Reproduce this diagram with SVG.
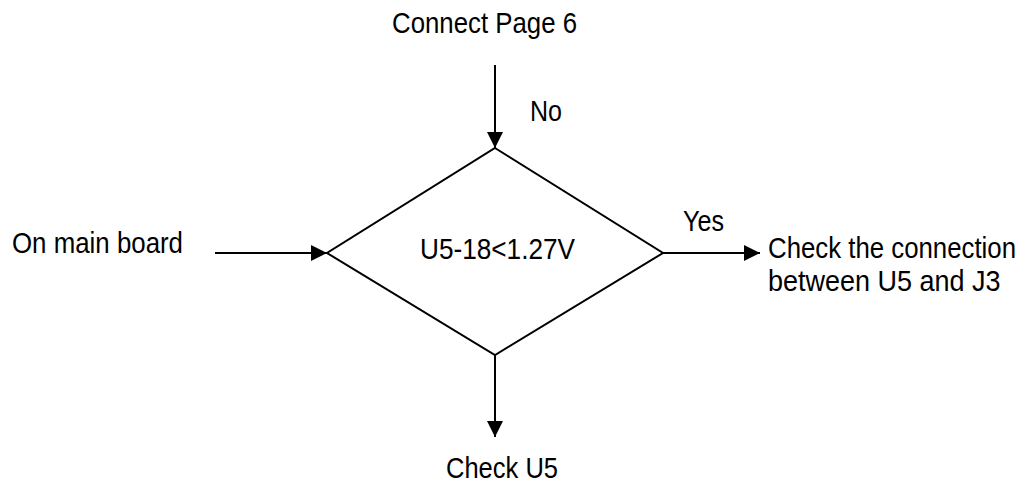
<svg xmlns="http://www.w3.org/2000/svg" width="1030" height="487" viewBox="0 0 1030 487">
<style>
text{font-family:"Liberation Sans Narrow","Liberation Sans",Arial,sans-serif;font-size:30px;fill:#000}
.ln{stroke:#000;stroke-width:2;fill:none}
</style>
<defs>
<marker id="ah" markerWidth="16" markerHeight="16" viewBox="0 0 16 16" refX="16" refY="8" orient="auto" markerUnits="userSpaceOnUse">
<path d="M0,0 L16,8 L0,16 Z" fill="#000"/>
</marker>
</defs>
<rect width="1030" height="487" fill="#fff"/>
<g id="connectors">
<line class="ln" x1="495" y1="65" x2="495" y2="148" marker-end="url(#ah)"/>
<line class="ln" x1="215" y1="253" x2="327" y2="253" marker-end="url(#ah)"/>
<line class="ln" x1="663" y1="253" x2="760" y2="253" marker-end="url(#ah)"/>
<line class="ln" x1="495" y1="355" x2="495" y2="437" marker-end="url(#ah)"/>
<text x="530" y="121" textLength="32" lengthAdjust="spacingAndGlyphs">No</text>
<text x="683" y="231" textLength="41" lengthAdjust="spacingAndGlyphs">Yes</text>
</g>
<g id="top">
<text x="392" y="33" textLength="185" lengthAdjust="spacingAndGlyphs">Connect Page 6</text>
</g>
<g id="left">
<text x="12" y="253" textLength="171" lengthAdjust="spacingAndGlyphs">On main board</text>
</g>
<g id="decision">
<polygon class="ln" points="495,148 663,253 495,355 327,253"/>
<text x="420" y="259" textLength="155" lengthAdjust="spacingAndGlyphs">U5-18&lt;1.27V</text>
</g>
<g id="right">
<text transform="translate(768,258) scale(0.86,1)">Check the connection</text>
<text transform="translate(768,291) scale(0.9,1)">between U5 and J3</text>
</g>
<g id="bottom">
<text x="446" y="478" textLength="112" lengthAdjust="spacingAndGlyphs">Check U5</text>
</g>
</svg>
